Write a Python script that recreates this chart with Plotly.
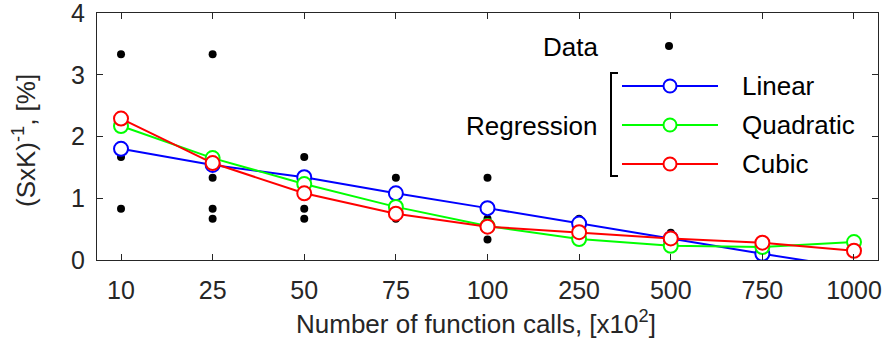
import plotly.graph_objects as go

# Number of function calls (x10^2), plotted as evenly spaced categories
categories = ["10", "25", "50", "75", "100", "250", "500", "750", "1000"]
cat_pos = list(range(1, len(categories) + 1))

# Individual measurements of (SxK)^-1 [%] per category
data_x = [1, 1, 1,
          2, 2, 2, 2,
          3, 3, 3,
          4, 4,
          5, 5, 5,
          6,
          7, 7,
          8,
          9, 9]
data_y = [3.33, 1.67, 0.83,
          3.33, 1.33, 0.83, 0.67,
          1.67, 0.83, 0.67,
          1.33, 0.67,
          1.33, 0.67, 0.33,
          0.67,
          0.44, 0.20,
          0.33,
          0.33, 0.27]

# Regression fits evaluated at each category
linear = [1.80, 1.54, 1.34, 1.08, 0.84, 0.59, 0.35, 0.10, -0.13]
quadratic = [2.17, 1.65, 1.23, 0.86, 0.55, 0.34, 0.23, 0.21, 0.29]
cubic = [2.29, 1.57, 1.08, 0.75, 0.54, 0.45, 0.35, 0.28, 0.15]

y_ticks = [0, 1, 2, 3, 4]

fits = [("Linear", linear, "#0000FF"),
        ("Quadratic", quadratic, "#00FF00"),
        ("Cubic", cubic, "#FF0000")]

FONT = "Liberation Sans, Arial, Helvetica, sans-serif"
AXC = "#262626"

fig = go.Figure()

fig.add_trace(go.Scatter(
    x=data_x, y=data_y, mode="markers",
    marker=dict(color="black", size=8, symbol="circle"),
    showlegend=False, hoverinfo="skip"))

for name, vals, col in fits:
    fig.add_trace(go.Scatter(
        x=cat_pos, y=vals, mode="lines+markers", name=name,
        line=dict(color=col, width=2),
        marker=dict(symbol="circle", size=14, color="white",
                    line=dict(color=col, width=2)),
        showlegend=False))

# Hand-built legend on an overlay axis spanning the plot area (0..1)
PL, PR, PT, PB = 97, 878, 13, 260


def px(x):
    return (x - PL) / (PR - PL)


def py(y):
    return (PB - y) / (PB - PT)


leg_rows = [86, 125, 164]
for (name, vals, col), ry in zip(fits, leg_rows):
    fig.add_trace(go.Scatter(
        x=[px(622), px(670), px(718)], y=[py(ry)] * 3,
        xaxis="x2", yaxis="y2", mode="lines",
        line=dict(color=col, width=2), showlegend=False, hoverinfo="skip"))
    fig.add_trace(go.Scatter(
        x=[px(670)], y=[py(ry)], xaxis="x2", yaxis="y2", mode="markers",
        marker=dict(symbol="circle", size=13, color="white",
                    line=dict(color=col, width=2)),
        showlegend=False, hoverinfo="skip"))
    fig.add_annotation(x=px(740), y=py(ry), xref="paper", yref="paper",
                       text=name, showarrow=False, xanchor="left",
                       yanchor="middle",
                       font=dict(family=FONT, size=26, color="black"))

fig.add_trace(go.Scatter(
    x=[px(669)], y=[py(46)], xaxis="x2", yaxis="y2", mode="markers",
    marker=dict(color="black", size=8), showlegend=False, hoverinfo="skip"))

# Bracket grouping the regression entries
fig.add_trace(go.Scatter(
    x=[px(618), px(611), px(611), px(618)],
    y=[py(73), py(73), py(176), py(176)],
    xaxis="x2", yaxis="y2", mode="lines",
    line=dict(color="black", width=2), showlegend=False, hoverinfo="skip"))

fig.add_annotation(x=px(600), y=py(47), xref="paper", yref="paper",
                   text="Data", showarrow=False, xanchor="right",
                   yanchor="middle",
                   font=dict(family=FONT, size=26, color="black"))
fig.add_annotation(x=px(600), y=py(126), xref="paper", yref="paper",
                   text="Regression", showarrow=False, xanchor="right",
                   yanchor="middle",
                   font=dict(family=FONT, size=26, color="black"))

# Axis titles
fig.add_annotation(x=px(476), y=py(322), xref="paper", yref="paper",
                   text="Number of function calls, [x10<sup>2</sup>]",
                   showarrow=False, xanchor="center", yanchor="middle",
                   font=dict(family=FONT, size=26, color=AXC))
fig.add_annotation(x=px(24), y=py(141), xref="paper", yref="paper",
                   text="(SxK)<sup>-1</sup>, [%]", textangle=-90,
                   showarrow=False, xanchor="center", yanchor="middle",
                   font=dict(family=FONT, size=26, color=AXC))

axis_common = dict(showgrid=False, zeroline=False, showline=True,
                   linecolor=AXC, linewidth=1, mirror="ticks",
                   ticks="inside", ticklen=6, tickcolor=AXC, tickwidth=1,
                   ticklabeloverflow="allow", automargin=False,
                   tickfont=dict(family=FONT, size=25, color=AXC))

fig.update_layout(
    width=885, height=345,
    margin=dict(l=PL, r=885 - PR, t=PT, b=345 - PB, pad=0, autoexpand=False),
    paper_bgcolor="white", plot_bgcolor="white",
    xaxis=dict(range=[0.738, 9.262], tickmode="array", tickvals=cat_pos,
               ticktext=categories, ticklabelstandoff=8, **axis_common),
    yaxis=dict(range=[0, 4], tickmode="array", tickvals=y_ticks,
               ticklabelstandoff=6, **axis_common),
    xaxis2=dict(overlaying="x", range=[0, 1], visible=False,
                automargin=False),
    yaxis2=dict(overlaying="y", range=[0, 1], visible=False,
                automargin=False),
    showlegend=False,
)

fig.write_html("out.html")
